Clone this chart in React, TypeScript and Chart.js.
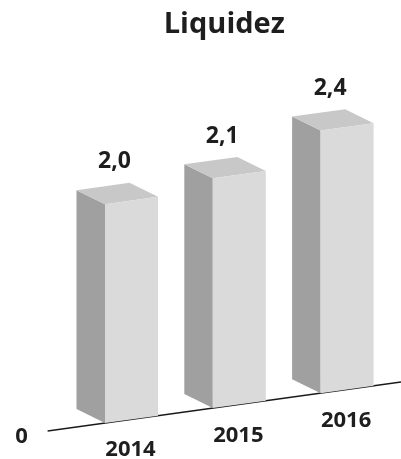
import React, { useEffect, useRef } from "react";
import { Chart, registerables } from "chart.js";

Chart.register(...registerables);

// ---- data ----
const chartTitle = "Liquidez";
const categories = ["2014", "2015", "2016"];
const values = [2.0, 2.1, 2.4];
const zeroLabel = "0";
const yMin = 0;
const yMax = 3;

// ---- style ----
const FONT = "'Open Sans', 'DejaVu Sans', sans-serif";
const TEXT = "#1e1e1e";
const FRONT = "#dadada";
const SIDE = "#a0a0a0";
const TOP = "#c8c8c8";
const SLOPE = -0.1385; // tilt of the floor line
const DX = -28.5; // depth of the boxes
const DY = -14;

const fmt = (v: number) => v.toFixed(1).replace(".", ",");

const box3d = {
  id: "box3d",
  beforeDatasetsDraw(chart: any) {
    const ctx = chart.ctx;
    const meta = chart.getDatasetMeta(0);
    const yScale = chart.scales.y;
    const first = meta.data[0].getProps(["x", "width"], true);
    const xRef = first.x - first.width / 2;
    const base = yScale.getPixelForValue(0);
    const sy = (x: number, y: number) => y + SLOPE * (x - xRef);
    const x0 = chart.chartArea.left - 30;
    const x1 = chart.width;
    ctx.save();
    ctx.strokeStyle = "#1a1a1a";
    ctx.lineWidth = 1.5;
    ctx.beginPath();
    ctx.moveTo(x0, sy(x0, base));
    ctx.lineTo(x1, sy(x1, base));
    ctx.stroke();
    ctx.font = `bold 22px ${FONT}`;
    ctx.fillStyle = TEXT;
    ctx.textAlign = "center";
    ctx.textBaseline = "alphabetic";
    const zx = x0 - 26;
    ctx.fillText(zeroLabel, zx, sy(zx, base) + 8.5);
    ctx.restore();
  },
  afterDatasetsDraw(chart: any) {
    const ctx = chart.ctx;
    const meta = chart.getDatasetMeta(0);
    const first = meta.data[0].getProps(["x", "width"], true);
    const xRef = first.x - first.width / 2;
    const sy = (x: number, y: number) => y + SLOPE * (x - xRef);
    const poly = (pts: number[][], color: string) => {
      ctx.beginPath();
      ctx.moveTo(pts[0][0], pts[0][1]);
      for (let i = 1; i < pts.length; i++) ctx.lineTo(pts[i][0], pts[i][1]);
      ctx.closePath();
      ctx.fillStyle = color;
      ctx.fill();
    };
    ctx.save();
    meta.data.forEach((el: any, i: number) => {
      const { x, y, base, width } = el.getProps(["x", "y", "base", "width"], true);
      const l = x - width / 2;
      const r = x + width / 2;
      const FLt = [l, sy(l, y)];
      const FRt = [r, sy(r, y)];
      const FRb = [r, sy(r, base)];
      const FLb = [l, sy(l, base)];
      const off = (p: number[]) => [p[0] + DX, p[1] + DY];
      poly([FLt, FLb, off(FLb), off(FLt)], SIDE);
      poly([FLt, FRt, off(FRt), off(FLt)], TOP);
      poly([FLt, FRt, FRb, FLb], FRONT);

      ctx.fillStyle = TEXT;
      ctx.textAlign = "center";
      ctx.textBaseline = "alphabetic";
      ctx.font = `bold 23px ${FONT}`;
      const lx = x - 17;
      ctx.fillText(fmt(values[i]), lx, sy(lx, y) - 34.5);
      ctx.font = `bold 22px ${FONT}`;
      const cx = x - 1;
      ctx.fillText(categories[i], cx, sy(cx, base) + 37);
    });
    ctx.restore();
  },
};

export default function App() {
  const ref = useRef<HTMLCanvasElement | null>(null);
  useEffect(() => {
    if (!ref.current) return;
    const chart = new Chart(ref.current, {
      type: "bar",
      data: {
        labels: categories,
        datasets: [
          {
            data: values,
            backgroundColor: "rgba(0,0,0,0)",
            borderWidth: 0,
            barThickness: 53,
          },
        ],
      },
      options: {
        responsive: false,
        animation: false,
        layout: { padding: { top: 0, left: 47.6, right: 0, bottom: 36 } },
        scales: {
          x: { display: false },
          y: {
            display: true,
            min: yMin,
            max: yMax,
            ticks: { display: false },
            grid: { display: false },
            border: { display: false },
            afterFit: (s: any) => {
              s.width = 30;
            },
          },
        },
        plugins: {
          legend: { display: false },
          tooltip: { enabled: false },
          title: {
            display: true,
            text: chartTitle,
            color: TEXT,
            font: { family: FONT, size: 29, weight: "bold", lineHeight: 1.2 },
            padding: { top: 7.6, bottom: 52.4 },
          },
        },
      },
      plugins: [box3d],
    });
    return () => chart.destroy();
  }, []);
  return (
    <div style={{ position: "fixed", left: 0, top: 0, width: 401, height: 459, background: "#fff" }}>
      <canvas ref={ref} width={401} height={459} />
    </div>
  );
}
